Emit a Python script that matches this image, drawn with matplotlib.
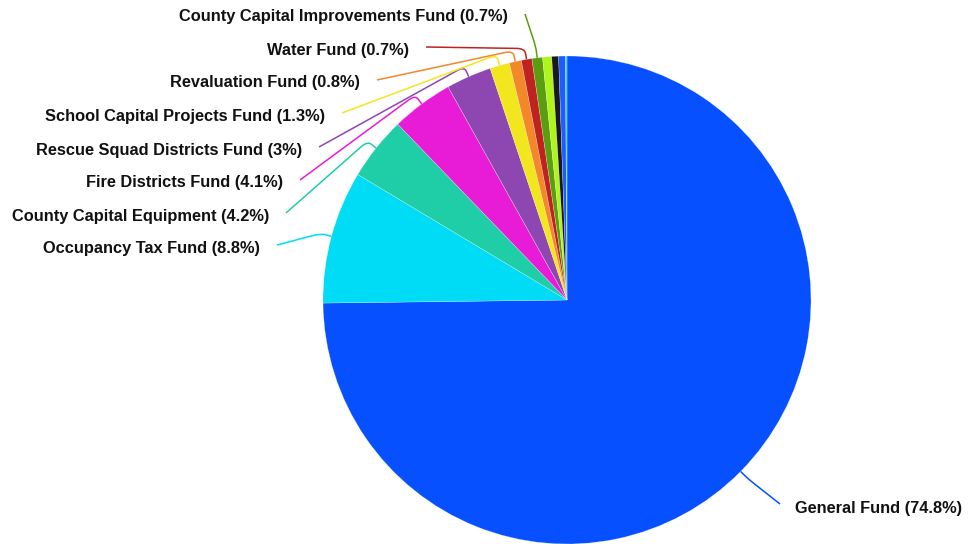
import numpy as np
import matplotlib.pyplot as plt
from matplotlib.path import Path
from matplotlib.patches import PathPatch

plt.rcParams['font.family'] = ['Liberation Sans', 'DejaVu Sans']

# fund shares, clockwise from 12 o'clock
funds = ['General Fund', 'Occupancy Tax Fund', 'County Capital Equipment',
         'Fire Districts Fund', 'Rescue Squad Districts Fund',
         'School Capital Projects Fund', 'Revaluation Fund', 'Water Fund',
         'County Capital Improvements Fund', None, None, None, None]
pct = [74.8, 8.8, 4.2, 4.1, 3.0, 1.3, 0.8, 0.7, 0.7, 0.6, 0.45, 0.45, 0.1]
pct_txt = ['74.8', '8.8', '4.2', '4.1', '3', '1.3', '0.8', '0.7', '0.7']
colors = ['#0650FF', '#00DCF5', '#1FCDA6', '#E81CD6', '#8E47B0', '#F2E61E',
          '#F3882A', '#C0221F', '#5A9D10', '#B0F51A', '#1A1A1A', '#1F5CFF', '#1FD8FF']

# label anchors (pixel coords: x of text edge, y centre)
lab_pos = [(795, 508, 'left'), (260, 248, 'right'), (269, 216, 'right'),
           (283, 183, 'right'), (302, 150, 'right'), (325, 116, 'right'),
           (360, 83, 'right'), (409, 50, 'right'), (508, 17, 'right')]

W, H = 968, 544
cx, cy, R = 567, H - 300, 244

fig = plt.figure(figsize=(W / 100, H / 100), dpi=100)
ax = fig.add_axes([0, 0, 1, 1])

wedges, _ = ax.pie(pct, colors=colors, startangle=90, counterclock=False,
                   center=(cx, cy), radius=R,
                   wedgeprops=dict(edgecolor=(1, 1, 1, 0.5), linewidth=0.3))
ax.set_xlim(0, W)
ax.set_ylim(0, H)
ax.set_aspect('equal')
ax.axis('off')

for i, name in enumerate(funds):
    if name is None:
        continue
    w = wedges[i]
    th = np.deg2rad((w.theta1 + w.theta2) / 2)
    u = np.array([np.cos(th), np.sin(th)])
    E = np.array([cx, cy]) + R * u
    B = np.array([cx, cy]) + (R + 11) * u
    tx, ty, ha = lab_pos[i]
    Y = H - ty
    if ha == 'right':
        T = np.array([tx + 17, Y + 3])
    else:
        T = np.array([tx - 15, Y + 4])
    d = T - B
    A = B + d / np.linalg.norm(d) * 8
    C = B + (E - B) / np.linalg.norm(E - B) * 5
    verts = [T, A, B, C, E]
    codes = [Path.MOVETO, Path.LINETO, Path.CURVE3, Path.CURVE3, Path.LINETO]
    ax.add_patch(PathPatch(Path(verts, codes), fill=False, edgecolor=colors[i], lw=1.1))
    ax.text(tx, Y, f'{name} ({pct_txt[i]}%)', ha=ha, va='center',
            fontsize=11.8, fontweight='bold', color='#111111')

fig.savefig('out.png', dpi=100, facecolor='white')
